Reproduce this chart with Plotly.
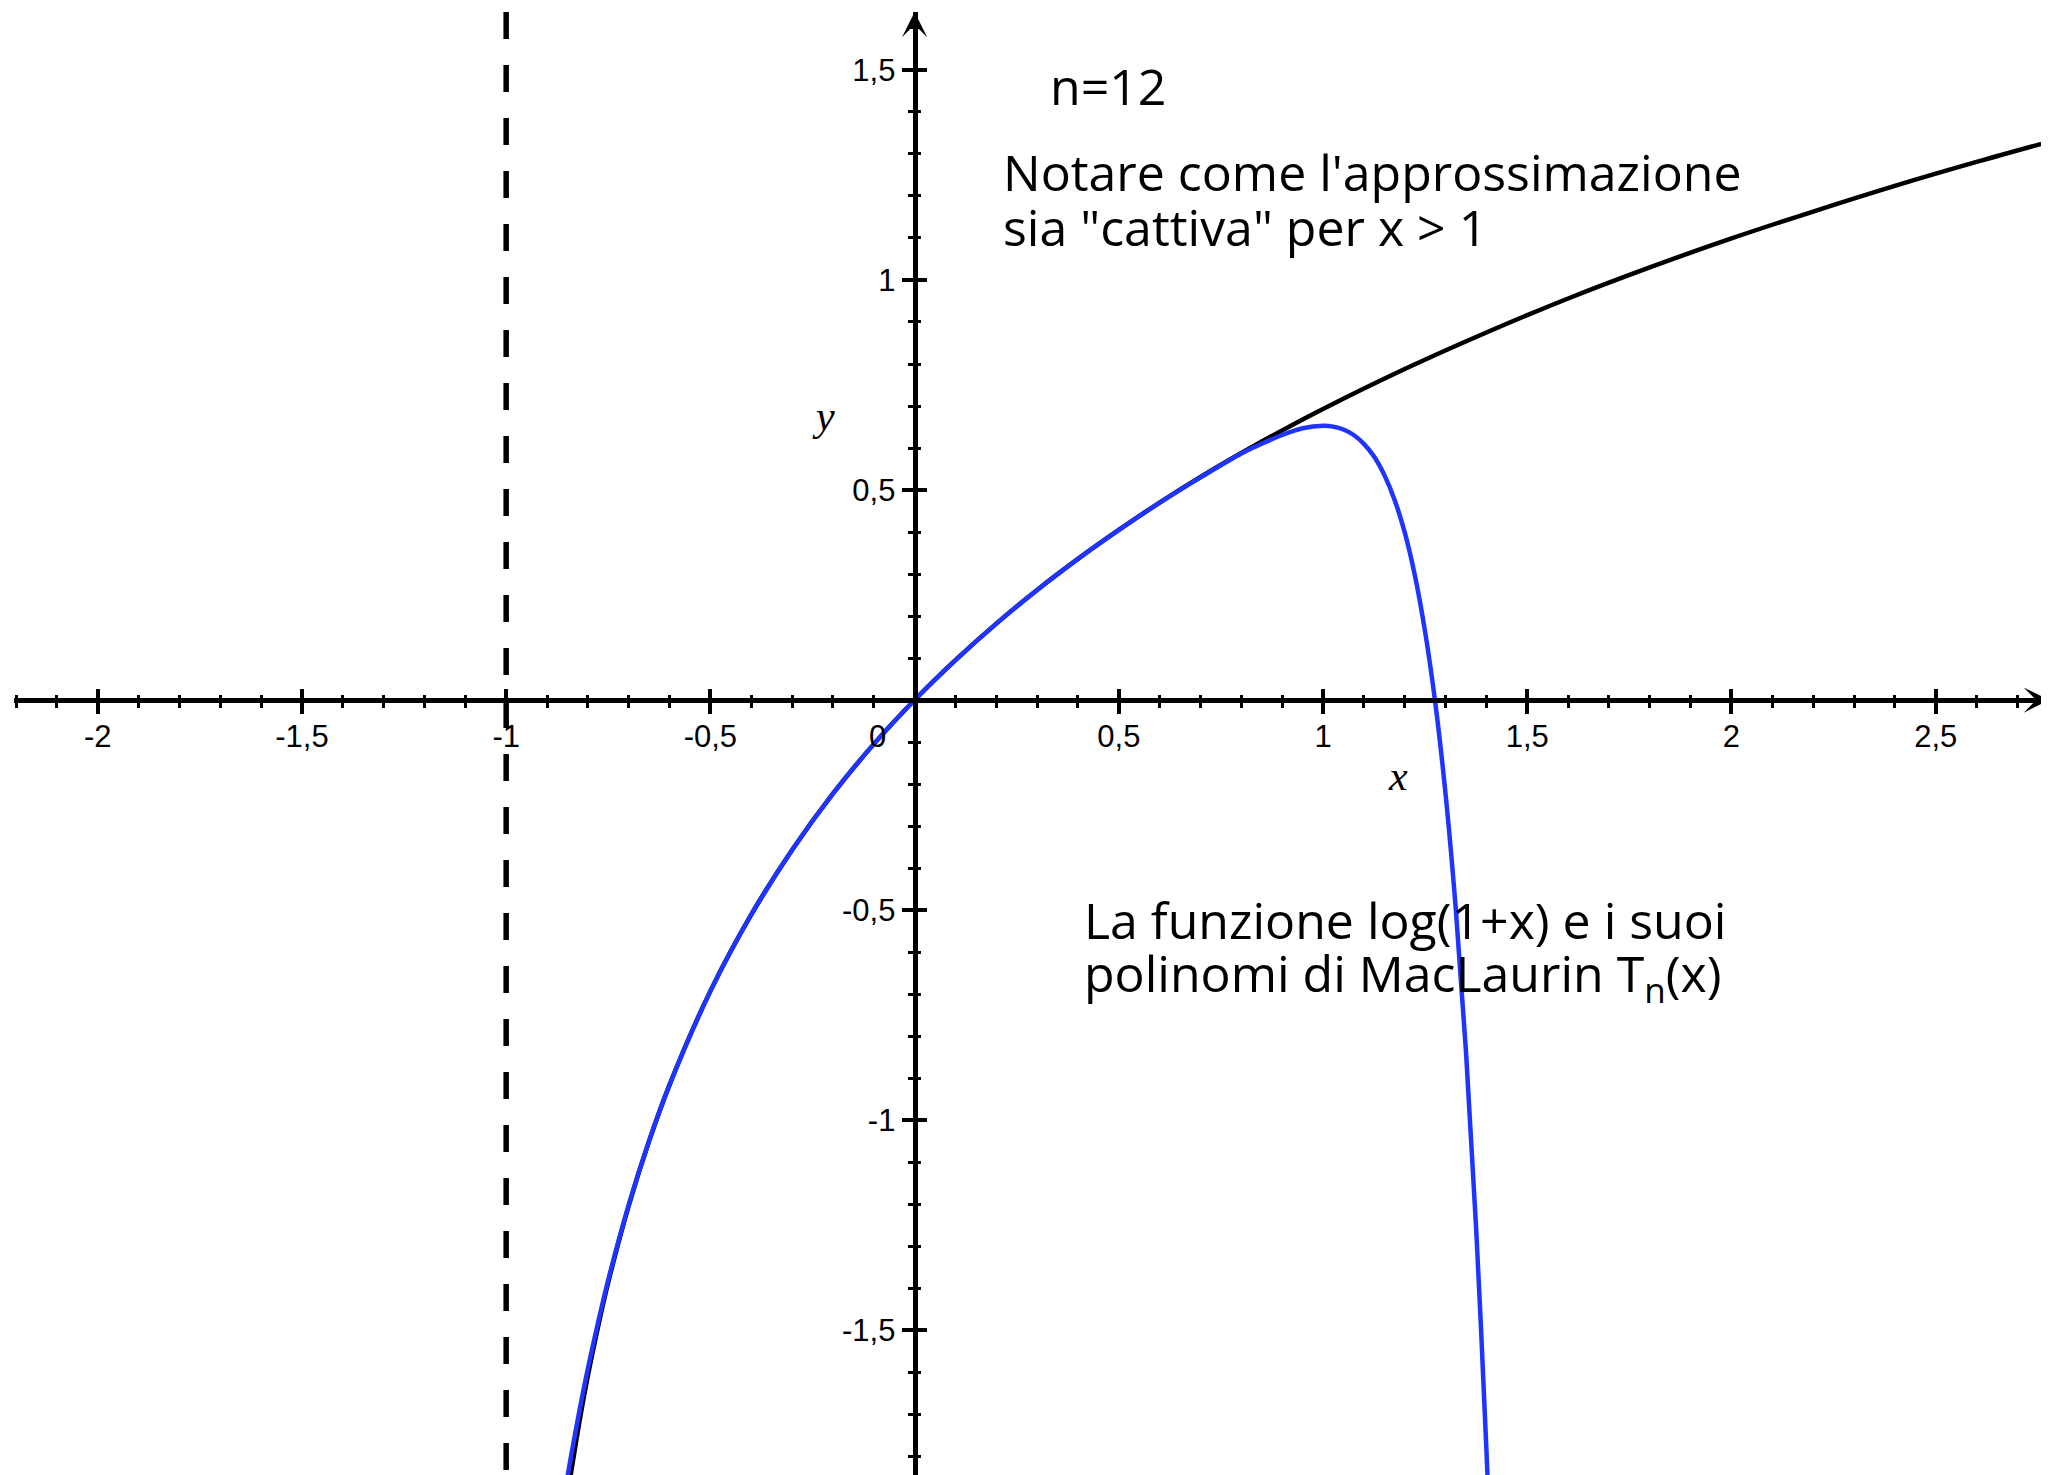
import plotly.graph_objects as go

# log(1+x)
x_log = [-0.85, -0.84, -0.82, -0.80, -0.775, -0.75, -0.70, -0.65, -0.60, -0.50, -0.40,
         -0.30, -0.20, -0.10, 0.0, 0.10, 0.20, 0.30, 0.40, 0.50, 0.60, 0.70, 0.80,
         0.90, 1.00, 1.20, 1.40, 1.60, 1.80, 2.00, 2.20, 2.40, 2.60, 2.80]
y_log = [-1.897, -1.833, -1.715, -1.609, -1.492, -1.386, -1.204, -1.050, -0.916, -0.693, -0.511,
         -0.357, -0.223, -0.105, 0.0, 0.095, 0.182, 0.262, 0.336, 0.405, 0.470, 0.531, 0.588,
         0.642, 0.693, 0.788, 0.875, 0.956, 1.030, 1.099, 1.163, 1.224, 1.281, 1.335]

# MacLaurin polynomial T_12(x)
x_t12 = [-0.85, -0.84, -0.82, -0.80, -0.775, -0.75, -0.70, -0.65, -0.60, -0.50, -0.40,
         -0.30, -0.20, -0.10, 0.0, 0.10, 0.20, 0.30, 0.40, 0.50, 0.60, 0.70, 0.80,
         0.85, 0.90, 0.95, 1.00, 1.025, 1.05, 1.075, 1.10, 1.125, 1.15, 1.175, 1.20,
         1.225, 1.25, 1.275, 1.30, 1.325, 1.35, 1.375, 1.40, 1.41]
y_t12 = [-1.850, -1.794, -1.689, -1.592, -1.482, -1.380, -1.202, -1.049, -0.916, -0.693, -0.511,
         -0.357, -0.223, -0.105, 0.0, 0.095, 0.182, 0.262, 0.336, 0.405, 0.470, 0.530, 0.587,
         0.610, 0.631, 0.647, 0.653, 0.651, 0.644, 0.631, 0.610, 0.580, 0.536, 0.477, 0.399,
         0.296, 0.162, -0.008, -0.224, -0.497, -0.837, -1.260, -1.784, -2.026]

asym_x = -1

x_major = [-2, -1.5, -1, -0.5, 0.5, 1, 1.5, 2, 2.5]
x_major_text = ["-2", "-1,5", "-1", "-0,5", "0,5", "1", "1,5", "2", "2,5"]
y_major = [-1.5, -1, -0.5, 0.5, 1, 1.5]
y_major_text = ["-1,5", "-1", "-0,5", "0,5", "1", "1,5"]
x_minor = [round(-2.2 + 0.1 * i, 1) for i in range(50)]
y_minor = [round(-1.8 + 0.1 * i, 1) for i in range(35)]

# visible window (page body has an 8px offset)
x_range = [-2.205, 2.797]
y_range = [-1.864, 1.638]
x_end = 2.777   # where the x arrow tip sits (right edge of the window)

xpos = (0 - y_range[0]) / (y_range[1] - y_range[0])
ypos = (0 - x_range[0]) / (x_range[1] - x_range[0])

tick_font = dict(family="Liberation Sans, Arial", size=31, color="black")
txt_font = dict(family="Open Sans", size=50, color="black")

fig = go.Figure()
fig.add_trace(go.Scatter(x=x_log, y=y_log, mode="lines", line=dict(color="black", width=4.5, shape="spline"),
                         hoverinfo="skip"))
fig.add_trace(go.Scatter(x=x_t12, y=y_t12, mode="lines", line=dict(color="#1f35ff", width=4.5, shape="spline"),
                         hoverinfo="skip"))
fig.add_trace(go.Scatter(x=[asym_x, asym_x], y=[y_range[1], y_range[0]], mode="lines",
                         line=dict(color="black", width=5.5, dash="27px,26px"),
                         xaxis="x2", yaxis="y2", hoverinfo="skip"))

ax_common = dict(showgrid=False, zeroline=False, tickcolor="black", tickwidth=3.5, automargin=False)

fig.update_layout(
    width=2049, height=1475,
    margin=dict(l=6, r=0, t=4, b=0),
    paper_bgcolor="white", plot_bgcolor="white",
    showlegend=False,
    xaxis=dict(range=x_range, anchor="free", position=xpos, showline=True, linecolor="black", linewidth=5,
               ticks="outside", ticklen=11, tickvals=x_major, ticktext=x_major_text, tickfont=tick_font,
               ticklabelstandoff=-4,
               minor=dict(tickvals=x_minor, ticks="outside", ticklen=5, tickwidth=3, tickcolor="black"),
               **ax_common),
    yaxis=dict(range=y_range, anchor="free", position=ypos, showline=True, linecolor="black", linewidth=5,
               ticks="outside", ticklen=11, tickvals=y_major, ticktext=y_major_text, tickfont=tick_font,
               minor=dict(tickvals=y_minor, ticks="outside", ticklen=5, tickwidth=3, tickcolor="black"),
               **ax_common),
    xaxis2=dict(range=x_range, overlaying="x", anchor="free", position=xpos, showline=False,
                ticks="inside", ticklen=11, tickvals=x_major, showticklabels=False,
                minor=dict(tickvals=x_minor, ticks="inside", ticklen=5, tickwidth=3, tickcolor="black"),
                **ax_common),
    yaxis2=dict(range=y_range, overlaying="y", anchor="free", position=ypos, showline=False,
                ticks="inside", ticklen=11, tickvals=y_major, showticklabels=False,
                minor=dict(tickvals=y_minor, ticks="inside", ticklen=5, tickwidth=3, tickcolor="black"),
                **ax_common),
)

# axis arrows
fig.add_annotation(x=x_end, y=0, ax=-40, ay=0, text="", showarrow=True, arrowhead=3,
                   arrowsize=1.4, arrowwidth=3, arrowcolor="black")
fig.add_annotation(x=0, y=y_range[1], ax=0, ay=40, text="", showarrow=True, arrowhead=3,
                   arrowsize=1.4, arrowwidth=3, arrowcolor="black")

# origin label
fig.add_annotation(x=0, y=0, text="0", showarrow=False, xshift=-37, yshift=-36, font=tick_font)

# axis names
fig.add_annotation(x=-0.224, y=0.676, text="<i>y</i>", showarrow=False,
                   font=dict(family="Liberation Serif", size=42, color="black"))
fig.add_annotation(x=1.184, y=-0.181, text="<i>x</i>", showarrow=False,
                   font=dict(family="Liberation Serif", size=42, color="black"))

# text
fig.add_annotation(x=0.327, y=1.463, text="n=12", showarrow=False, xanchor="left", font=txt_font)
fig.add_annotation(x=0.212, y=1.258, text="Notare come l'approssimazione", showarrow=False,
                   xanchor="left", font=txt_font)
fig.add_annotation(x=0.212, y=1.125, text="sia \"cattiva\" per x > 1", showarrow=False,
                   xanchor="left", font=txt_font)
fig.add_annotation(x=0.410, y=-0.524, text="La funzione log(1+x) e i suoi", showarrow=False,
                   xanchor="left", font=txt_font)
fig.add_annotation(x=0.410, y=-0.658, text="polinomi di MacLaurin T<sub>n</sub>(x)", showarrow=False,
                   xanchor="left", font=txt_font)

fig.write_html("out.html")
